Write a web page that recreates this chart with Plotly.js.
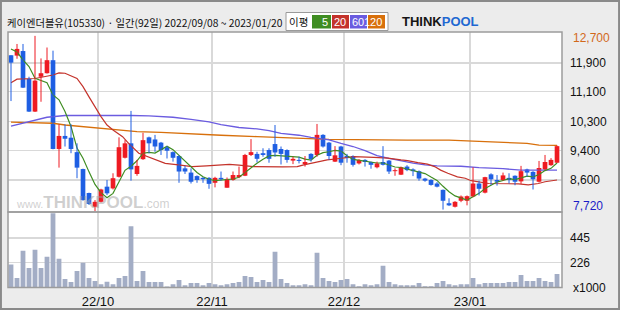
<!DOCTYPE html>
<html><head><meta charset="utf-8">
<script src="https://cdn.plot.ly/plotly-3.0.1.min.js"></script>
<style>html,body{margin:0;padding:0;background:#ececec}#c{width:620px;height:310px}</style>
</head><body><div id="c"></div><script>
// ---- data (KRW, daily, 2022/09/08 ~ 2023/01/20, 92 trading days) ----
const openP  = [12150,12140,12270,11480,10550,11540,11640,12010,9490,9860,9810,9400,8920,8240,7850,7990,8420,8370,8700,9240,9650,8780,9200,9820,9760,9670,9540,9400,9290,8940,8820,8720,8670,8670,8530,8670,8390,8610,8690,8730,9320,9350,9370,9460,9630,9490,9460,9160,9180,9060,9350,9320,9890,9670,9130,9560,9290,9290,9080,9180,9120,8970,9120,9160,8860,8760,8990,8910,8860,8650,8610,8510,8330,7950,7850,8020,8020,8140,8510,8250,8770,8610,8610,8670,8730,8570,8910,8840,8560,8910,9030,9100];
const highP  = [12150,12470,12470,11540,12700,12060,12370,12280,10190,10190,10190,9650,8930,8250,8040,8360,8610,8800,9820,9740,10570,9180,9950,9840,9890,9690,9570,9420,9310,9010,8940,8740,8690,8690,8700,8850,8680,8850,8990,9350,9770,9410,9510,9510,10170,9560,9480,9270,9270,9290,9370,10200,9910,9690,9570,9580,9350,9310,9200,9200,9130,9130,9570,9180,8940,8990,9030,8940,8880,8670,8630,8550,8340,8090,8010,8170,8170,8970,8590,8700,8800,8750,8820,8800,8740,9010,8930,8860,9150,9320,9230,9590];
const lowP   = [10850,12050,11220,10540,10540,10830,11630,9480,8960,9560,9370,8660,8020,7900,7720,7970,8180,8340,8680,9220,8590,8730,9180,9370,9410,9320,9220,9130,8530,8780,8510,8530,8530,8360,8400,8590,8390,8590,8660,8720,9290,9110,9270,9100,9270,9050,9100,9060,9080,8990,9130,9270,9530,9180,9120,9030,9100,8990,9050,8990,8930,8940,9020,8780,8730,8750,8860,8720,8590,8560,8450,8400,7770,7870,7830,7980,7890,8120,8170,8230,8470,8450,8590,8510,8460,8500,8700,8340,8540,8890,9010,9090];
const closeP = [11940,12330,11230,10550,11430,11640,12010,9490,9860,9780,9490,8960,8040,7930,7990,8340,8230,8660,9540,9650,8910,9010,9740,9650,9560,9460,9440,9240,8850,8850,8560,8610,8630,8500,8670,8630,8640,8750,8750,9320,9400,9210,9320,9210,9390,9350,9180,9210,9150,9120,9200,9890,9560,9290,9310,9100,9230,9040,9180,9120,9040,9080,9040,8850,8880,8970,8890,8860,8650,8590,8470,8420,8020,7890,7990,8140,8150,8510,8360,8690,8630,8560,8740,8610,8560,8860,8820,8630,8950,9120,9180,9570];
// volume, thousands of shares
const volume = [207,85,331,176,340,176,277,668,258,76,49,149,222,85,58,30,52,30,85,103,550,58,149,49,49,49,9,30,67,21,40,40,21,40,30,21,30,40,49,103,94,49,67,49,322,76,40,21,21,30,21,313,85,58,49,67,76,30,12,30,21,30,195,49,30,21,21,21,40,12,12,40,58,30,21,30,30,85,30,40,40,40,40,49,49,112,58,58,85,58,49,122];
// moving averages
const ma5 = [12330,12240,12020,11830,11496,11436,11372,11024,10886,10556,10126,9516,9226,8840,8482,8252,8106,8230,8552,8884,8998,9154,9370,9392,9374,9484,9570,9470,9310,9168,8988,8822,8700,8630,8594,8608,8614,8638,8688,8818,8972,9086,9200,9292,9306,9296,9290,9268,9256,9202,9172,9314,9384,9412,9450,9430,9298,9194,9172,9134,9122,9092,9092,9026,8978,8964,8926,8890,8850,8792,8692,8598,8430,8278,8158,8092,8038,8136,8230,8370,8468,8550,8596,8646,8620,8666,8718,8696,8764,8876,8940,9090];
const ma20Day = [0,1,4,7,8,9,11,12,13,14,15,16,17,18.6,19.6,21.3,24.1,25.7,27.9,30.2,32.6,34.7,36.4,38,40.4,45.3,47.7,48.8,49.8,51,52.7,54.8,57.1,60.5,62.8,65,66.1,67.8,69.4,70.6,71.6,72.8,74.4,75.7,76.7,79.6,82.4,84.6,86.2,87.9,89,91];
const ma20    = [11370,11470,11490,11590,11650,11640,11490,11260,10970,10670,10410,10170,10030,9840,9650,9370,9180,9080,9040,8990,9010,9040,9050,9030,8990,8980,8990,9040,9080,9130,9180,9220,9270,9250,9230,9180,9160,9100,9060,8990,8890,8800,8700,8660,8590,8510,8510,8500,8470,8510,8560,8610];
const ma60Day = [0,1,4,6,9,15,20,23,27,30,33,35,38,41,43,45,47,48,50,53,55,57,59,61,63,65,67,69,71,75,78,82,85,91];
const ma60    = [10140,10180,10310,10390,10440,10450,10440,10430,10390,10330,10260,10180,10100,10060,10010,9930,9900,9880,9820,9750,9650,9560,9440,9300,9220,9150,9090,9040,9010,9000,8960,8930,8890,8890];
const ma120Day = [0,5,7,9,13,15,18,21,25,28,31,35,41,47,53,66,73,77,82,86,88,91];
const ma120    = [10250,10240,10220,10170,10100,10070,10030,9980,9960,9930,9900,9880,9840,9800,9760,9740,9740,9710,9680,9650,9600,9590];
const maLabels = ['5','20','60','120'];
const monthStart  = [15,34,56,77];
const monthLabels = ['22/10','22/11','22/12','23/01'];
const priceGrid       = [11930,11110,10260,9440,8610];
const priceGridLabels = ['11,900','11,100','10,300','9,400','8,600'];
const volGrid = [226,445];
const maxPrice = 12700, minPrice = 7720;
const titleText = '케이엔더블유(105330) · 일간(92일) 2022/09/08 ~ 2023/01/20';

// ---- styling ----
const RED='#ee1b22', BLUE='#1f5fe3';
const MA_COL=['#3f8d22','#c4332b','#6b5ce0','#d8700c'];
const W=620,H=310;
const px=x=>x/W, py=y=>1-y/H;
const N=closeP.length;
const days=[...Array(N).keys()];

const up=days.map(i=>closeP[i]>=openP[i]);
const bodyBase=days.map(i=>Math.min(openP[i],closeP[i]));
const bodyLen=days.map(i=>Math.max(Math.abs(closeP[i]-openP[i]),28));
const bodyCol=days.map(i=>up[i]?RED:BLUE);

function wicks(flag){
  const x=[],y=[];
  days.forEach(i=>{ if(up[i]===flag){ x.push(i,i,null); y.push(lowP[i],highP[i],null);} });
  return {x,y};
}
const wu=wicks(true), wd=wicks(false);

const traces=[
  {type:'scatter',mode:'lines',x:ma120Day,y:ma120,line:{color:MA_COL[3],width:1.3},xaxis:'x',yaxis:'y',hoverinfo:'skip'},
  {type:'scatter',mode:'lines',x:ma60Day,y:ma60,line:{color:MA_COL[2],width:1.3},xaxis:'x',yaxis:'y',hoverinfo:'skip'},
  {type:'scatter',mode:'lines',x:ma20Day,y:ma20,line:{color:MA_COL[1],width:1.2},xaxis:'x',yaxis:'y',hoverinfo:'skip'},
  {type:'scatter',mode:'lines',x:days,y:ma5,line:{color:MA_COL[0],width:1.2},xaxis:'x',yaxis:'y',hoverinfo:'skip'},
  {type:'scatter',mode:'lines',x:wu.x,y:wu.y,line:{color:RED,width:1},xaxis:'x',yaxis:'y',hoverinfo:'skip'},
  {type:'scatter',mode:'lines',x:wd.x,y:wd.y,line:{color:BLUE,width:1},xaxis:'x',yaxis:'y',hoverinfo:'skip'},
  {type:'bar',x:days,y:bodyLen,base:bodyBase,width:0.78,marker:{color:bodyCol,line:{width:0}},xaxis:'x',yaxis:'y',hoverinfo:'skip'},
  {type:'bar',x:days,y:volume,width:0.8,marker:{color:'#a3adc5',line:{width:0}},xaxis:'x',yaxis:'y2',hoverinfo:'skip'}
];

const FONT='Liberation Sans, Arial, sans-serif';
const gridC='#d9d9d9', frameC='#9c9c9c';
const legendBoxes=[[312,331],[332,349],[350,367],[368,385]];

const shapes=[
  {type:'rect',xref:'paper',yref:'paper',x0:px(8),x1:px(562),y0:py(212),y1:py(32),line:{color:frameC,width:1.5},layer:'above'},
  {type:'rect',xref:'paper',yref:'paper',x0:px(8),x1:px(562),y0:py(287.5),y1:py(212),line:{color:frameC,width:1.5},layer:'above'},
  {type:'rect',xref:'paper',yref:'paper',x0:0.0015,x1:0.9985,y0:0.003,y1:0.997,line:{color:'#8a8a8a',width:2},layer:'above'},
  {type:'rect',xref:'paper',yref:'paper',x0:px(286),x1:px(388),y0:py(30.5),y1:py(12.5),fillcolor:'#ffffff',line:{color:'#9a9a9a',width:1},layer:'above'}
];
legendBoxes.forEach((b,k)=>shapes.push({type:'rect',xref:'paper',yref:'paper',x0:px(b[0]),x1:px(b[1]),y0:py(28.5),y1:py(15),fillcolor:MA_COL[k],line:{width:0},layer:'above'}));

const annotations=[
  {xref:'paper',yref:'paper',x:px(5),y:py(22.5),xanchor:'left',yanchor:'middle',showarrow:false,text:titleText,font:{family:'Noto Sans CJK KR',size:10.3,color:'#111'}},
  {xref:'paper',yref:'paper',x:px(298.5),y:py(22),xanchor:'center',yanchor:'middle',showarrow:false,text:'이평',font:{family:'Noto Sans CJK KR',size:10.5,color:'#111'}},
  {xref:'paper',yref:'paper',x:px(440),y:py(21.5),xanchor:'center',yanchor:'middle',showarrow:false,
   text:'<b><span style="color:#151515">THINK</span><span style="color:#1f68d2">POOL</span></b>',font:{family:FONT,size:13}},
  {xref:'paper',yref:'paper',x:px(92),y:py(203),xanchor:'center',yanchor:'middle',showarrow:false,
   text:'<span style="font-size:11px">www.</span><b>THINKPOOL</b><span style="font-size:12px">.com</span>',font:{family:FONT,size:17,color:'rgba(160,160,160,0.5)'}},
  {xref:'paper',yref:'y',x:px(571),y:maxPrice,yshift:-2,xanchor:'left',yanchor:'middle',showarrow:false,text:maxPrice.toLocaleString('en-US'),font:{family:FONT,size:12,color:'#d2691a'}},
  {xref:'paper',yref:'y',x:px(571),y:minPrice,yshift:5,xanchor:'left',yanchor:'middle',showarrow:false,text:minPrice.toLocaleString('en-US'),font:{family:FONT,size:12,color:'#1c1cc8'}},
  {xref:'paper',yref:'y2',x:px(571),y:0,xanchor:'left',yanchor:'middle',showarrow:false,text:'x1000',font:{family:FONT,size:12,color:'#111'}}
];
legendBoxes.forEach((b,k)=>annotations.push({xref:'paper',yref:'paper',x:px(b[1]-1),y:py(22),xanchor:'right',yanchor:'middle',showarrow:false,text:maLabels[k],font:{family:FONT,size:11,color:'#fff'}}));

const layout={
  width:W,height:H,margin:{l:0,r:0,t:0,b:0},
  paper_bgcolor:'#ececec',plot_bgcolor:'#ffffff',showlegend:false,barmode:'overlay',
  xaxis:{domain:[px(8),px(562)],range:[-0.5,91.83],anchor:'y2',tickmode:'array',
    tickvals:monthStart.map(v=>v-0.5),ticktext:monthLabels,showgrid:true,gridcolor:gridC,gridwidth:1.2,
    zeroline:false,showline:false,ticks:'',ticklabelstandoff:4,tickfont:{family:FONT,size:13,color:'#111'}},
  yaxis:{domain:[py(212),py(32)],range:[7701,12810],anchor:'x',side:'right',tickmode:'array',
    tickvals:priceGrid,ticktext:priceGridLabels,showgrid:true,gridcolor:gridC,gridwidth:1.2,zeroline:false,
    showline:false,ticks:'',ticklabelstandoff:7,tickfont:{family:FONT,size:12,color:'#111'}},
  yaxis2:{domain:[py(287.5),py(212)],range:[0,679],anchor:'x',side:'right',tickmode:'array',
    tickvals:volGrid,ticktext:volGrid.map(String),showgrid:true,gridcolor:gridC,gridwidth:1.2,zeroline:false,
    showline:false,ticks:'',ticklabelstandoff:7,tickfont:{family:FONT,size:12,color:'#111'}},
  shapes:shapes,annotations:annotations
};
Plotly.newPlot('c',traces,layout,{staticPlot:true,displayModeBar:false});
</script></body></html>
